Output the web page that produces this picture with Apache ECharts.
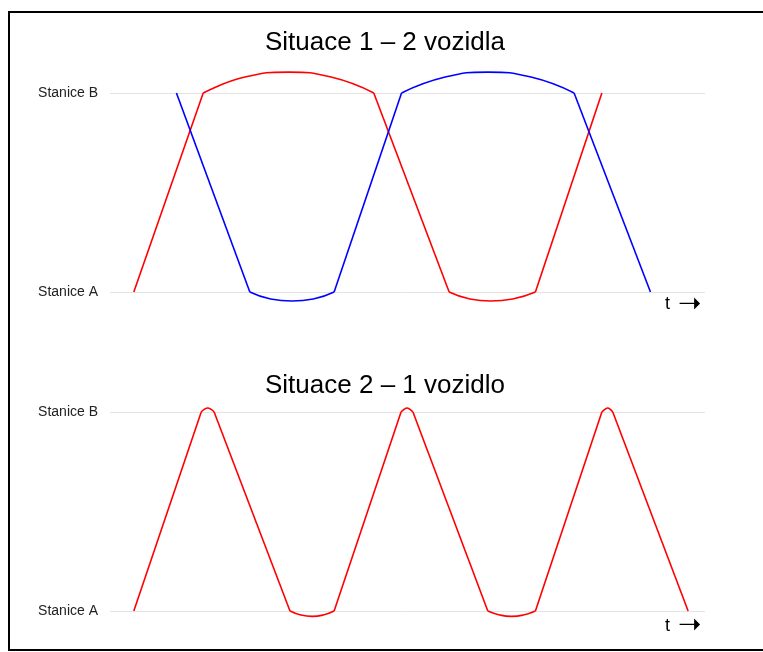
<!DOCTYPE html>
<html>
<head>
<meta charset="utf-8">
<script src="https://cdn.jsdelivr.net/npm/echarts@6/dist/echarts.min.js"></script>
<style>
  html, body { margin: 0; padding: 0; background: #fff; }
  #chart { width: 763px; height: 652px; }
</style>
</head>
<body>
<div id="chart"></div>
<script>
// stanice na ose y
const stationLabels = ['Stanice A', 'Stanice B']
const titles = ['Situace 1 – 2 vozidla', 'Situace 2 – 1 vozidlo']

// Situace 1 – červené vozidlo (úseky jízdy a oblouky ve stanicích)
const red1Legs = [
  [[2.4, 0], [9.4, 1]],
  [[26.6, 1], [34.2, 0]],
  [[42.9, 0], [49.6, 1]]
]
const red1Arcs = [
  [[9.4, 1], [13.6, 1.08], [18.0, 1.105], [22.3, 1.08], [26.6, 1]],
  [[34.2, 0], [36.3, -0.035], [38.4, -0.045], [40.6, -0.035], [42.9, 0]]
]

// Situace 1 – modré vozidlo
const blue1Legs = [
  [[6.7, 1], [14.1, 0]],
  [[22.6, 0], [29.4, 1]],
  [[46.8, 1], [54.5, 0]]
]
const blue1Arcs = [
  [[14.1, 0], [16.2, -0.035], [18.35, -0.045], [20.5, -0.035], [22.6, 0]],
  [[29.4, 1], [33.8, 1.08], [38.1, 1.105], [42.45, 1.08], [46.8, 1]]
]

// Situace 2 – jedno vozidlo
const red2Legs = [
  [[2.4, 0], [9.2, 1]],
  [[10.5, 1], [18.15, 0]],
  [[22.6, 0], [29.35, 1]],
  [[30.55, 1], [38.1, 0]],
  [[42.9, 0], [49.6, 1]],
  [[50.7, 1], [58.3, 0]]
]
const red2Arcs = [
  [[9.2, 1], [9.5, 1.013], [9.85, 1.02], [10.2, 1.013], [10.5, 1]],
  [[18.15, 0], [19.25, -0.02], [20.4, -0.027], [21.5, -0.02], [22.6, 0]],
  [[29.35, 1], [29.65, 1.013], [29.95, 1.02], [30.25, 1.013], [30.55, 1]],
  [[38.1, 0], [39.3, -0.02], [40.5, -0.027], [41.7, -0.02], [42.9, 0]],
  [[49.6, 1], [49.9, 1.013], [50.2, 1.02], [50.45, 1.013], [50.7, 1]]
]

const RED = '#ff0000'
const BLUE = '#0000ff'
const FONT = 'Liberation Sans, Arial, sans-serif'

const makeSeries = (segs, color, gridIndex, smooth) => segs.map(seg => ({
  type: 'line',
  xAxisIndex: gridIndex,
  yAxisIndex: gridIndex,
  data: seg,
  smooth: smooth,
  symbol: 'none',
  clip: false,
  silent: true,
  lineStyle: { color: color, width: 1.6 }
}))

// osa času jen s popiskem "t →"
const xAxisFor = (gridIndex, nameOffset) => ({
  type: 'value',
  gridIndex: gridIndex,
  min: 0,
  max: 60,
  axisLine: { show: false },
  axisTick: { show: false },
  axisLabel: { show: false },
  splitLine: { show: false },
  name: '{t|t}{s|}{a|➝}',
  nameLocation: 'end',
  nameGap: -40,
  nameTextStyle: {
    align: 'left',
    verticalAlign: 'middle',
    padding: [nameOffset, 0, 0, 0],
    rich: {
      t: { fontFamily: FONT, fontSize: 18, color: '#000' },
      s: { width: 8 },
      a: { fontFamily: 'DejaVu Sans', fontSize: 28, color: '#000' }
    }
  }
})

const yAxisFor = (gridIndex) => ({
  type: 'value',
  gridIndex: gridIndex,
  min: 0,
  max: 1,
  interval: 1,
  axisLine: { show: false },
  axisTick: { show: false },
  axisLabel: {
    margin: 12,
    color: '#222',
    fontFamily: FONT,
    fontSize: 14,
    formatter: v => stationLabels[v]
  },
  splitLine: { lineStyle: { color: '#e3e3e3', width: 1 } }
})

const chart = echarts.init(document.getElementById('chart'), null, { renderer: 'canvas' })

chart.setOption({
  backgroundColor: '#fff',
  animation: false,
  title: [
    { text: titles[0], left: 260, top: 25, textStyle: { fontFamily: FONT, fontSize: 26, fontWeight: 'normal', color: '#000' } },
    { text: titles[1], left: 260, top: 368, textStyle: { fontFamily: FONT, fontSize: 26, fontWeight: 'normal', color: '#000' } }
  ],
  grid: [
    { left: 110, right: 58, top: 93, height: 199 },
    { left: 110, right: 58, top: 412, height: 199 }
  ],
  xAxis: [xAxisFor(0, 25), xAxisFor(1, 30)],
  yAxis: [yAxisFor(0), yAxisFor(1)],
  graphic: [
    {
      type: 'rect',
      shape: { x: 9, y: 12, width: 800, height: 638 },
      style: { fill: 'none', stroke: '#000', lineWidth: 2 },
      silent: true
    }
  ],
  series: [
    ...makeSeries(red1Legs, RED, 0, false),
    ...makeSeries(red1Arcs, RED, 0, true),
    ...makeSeries(blue1Legs, BLUE, 0, false),
    ...makeSeries(blue1Arcs, BLUE, 0, true),
    ...makeSeries(red2Legs, RED, 1, false),
    ...makeSeries(red2Arcs, RED, 1, true)
  ]
})
</script>
</body>
</html>
